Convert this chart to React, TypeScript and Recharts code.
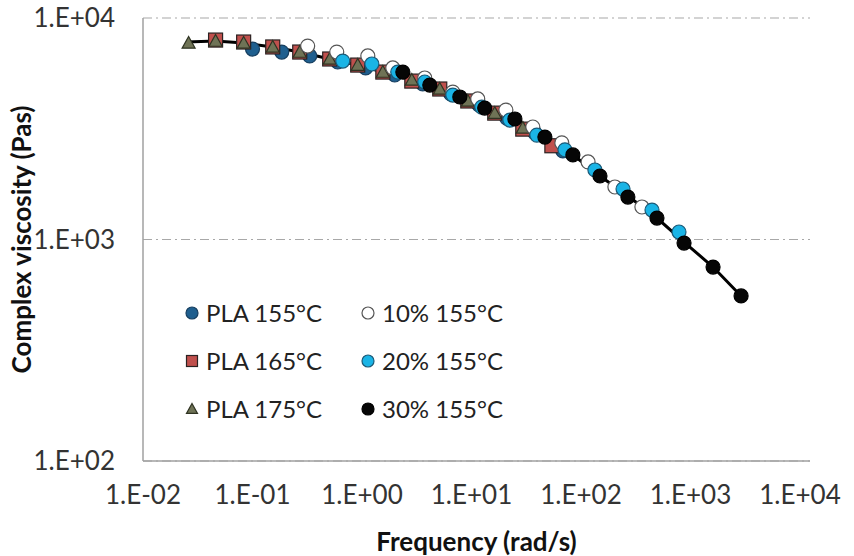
import { CartesianGrid, Legend, Scatter, ScatterChart, XAxis, YAxis } from 'recharts';

// frequency (rad/s), complex viscosity (Pa s)
const pla155: [number, number][] = [
  [0.1, 7240], [0.185, 7020], [0.333, 6740], [0.6, 6330], [1.08, 5950], [1.99, 5530],
  [3.59, 5040], [6.47, 4540], [11.7, 4050], [21.0, 3530], [37.9, 3030], [68.3, 2510]
];
const pla165: [number, number][] = [
  [0.046, 7950], [0.083, 7790], [0.153, 7400], [0.27, 7020], [0.507, 6530], [0.914, 6130],
  [1.55, 5700], [2.85, 5190], [5.13, 4780], [9.25, 4220], [16.3, 3720], [29.4, 3150], [54.2, 2650]
];
const pla175: [number, number][] = [
  [0.0261, 7710], [0.046, 7870], [0.083, 7710], [0.153, 7400], [0.27, 7020], [0.507, 6530],
  [0.914, 6130], [1.55, 5700], [2.85, 5250], [5.13, 4780], [9.25, 4220], [16.3, 3720], [29.4, 3190]
];
const comp10: [number, number][] = [
  [0.319, 7470], [0.588, 7020], [1.13, 6740], [1.91, 5950], [3.74, 5360], [6.75, 4630],
  [11.4, 4310], [20.6, 3840], [36.3, 3220], [66.8, 2730], [116, 2240], [204, 1726], [360, 1402]
];
const comp20: [number, number][] = [
  [0.667, 6390], [1.23, 6200], [2.12, 5700], [3.74, 5140], [6.75, 4490], [12.4, 3960],
  [22.4, 3460], [39.5, 2960], [71.3, 2540], [134, 2060], [242, 1690], [445, 1358], [785, 1081]
];
const comp30: [number, number][] = [
  [2.36, 5700], [4.16, 4980], [7.82, 4400], [13.2, 3920], [24.9, 3500], [46.8, 2900],
  [84.3, 2410], [149, 1935], [268, 1555], [494, 1250], [873, 964], [1607, 751], [2897, 556]
];
const masterCurve: [number, number][] = [
  [0.025, 7790], [0.046, 7870], [0.083, 7710], [0.153, 7400], [0.27, 7020], [0.507, 6530],
  [0.914, 6130], [1.55, 5700], [2.85, 5250], [5.13, 4780], [9.25, 4220], [16.3, 3720],
  [29.4, 3190], [54.2, 2670], [84.3, 2410], [149, 1935], [268, 1572], [494, 1250],
  [873, 974], [1607, 751], [2897, 556]
];

const xTicks = [0.01, 0.1, 1, 10, 100, 1000, 10000];
const yTicks = [100, 1000, 10000];

type Kind = 'circle' | 'square' | 'triangle';

const series: { name: string; data: [number, number][]; kind: Kind; fill: string; stroke: string }[] = [
  { name: 'PLA 155°C', data: pla155, kind: 'circle', fill: '#1f5f8f', stroke: '#173f60' },
  { name: 'PLA 165°C', data: pla165, kind: 'square', fill: '#c0504d', stroke: '#2b2222' },
  { name: 'PLA 175°C', data: pla175, kind: 'triangle', fill: '#6f7356', stroke: '#2f3322' },
  { name: '10% 155°C', data: comp10, kind: 'circle', fill: '#ffffff', stroke: '#555555' },
  { name: '20% 155°C', data: comp20, kind: 'circle', fill: '#1ab4e6', stroke: '#1b5a78' },
  { name: '30% 155°C', data: comp30, kind: 'circle', fill: '#060606', stroke: '#000000' }
];

const toPoints = (d: [number, number][]) => d.map(([f, eta]) => ({ f, eta }));

const sci = (v: number) => {
  const e = Math.round(Math.log10(v));
  return `1.E${e < 0 ? '-' : '+'}${String(Math.abs(e)).padStart(2, '0')}`;
};

const Marker = ({ kind, cx, cy, s, fill, stroke }: { kind: Kind; cx: number; cy: number; s: number; fill: string; stroke: string }) => {
  if (kind === 'square')
    return <rect x={cx - s} y={cy - s} width={2 * s} height={2 * s} fill={fill} stroke={stroke} strokeWidth={1.2} />;
  if (kind === 'triangle')
    return (
      <polygon
        points={`${cx},${cy - s} ${cx + s},${cy + s * 0.8} ${cx - s},${cy + s * 0.8}`}
        fill={fill}
        stroke={stroke}
        strokeWidth={1.2}
      />
    );
  return <circle cx={cx} cy={cy} r={s} fill={fill} stroke={stroke} strokeWidth={1.2} />;
};

const renderLegend = (props: any) => {
  const names = (props.payload || []).map((p: any) => p.value);
  const items = series.filter((s) => names.includes(s.name));
  return (
    <div style={{ position: 'relative', width: 400, height: 130, fontFamily: 'Lato', fontSize: 24, color: '#222' }}>
      {items.map((s, i) => {
        const col = Math.floor(i / 3);
        const row = i % 3;
        return (
          <div
            key={s.name}
            style={{ position: 'absolute', left: col * 176, top: row * 48, display: 'flex', alignItems: 'center', whiteSpace: 'nowrap' }}
          >
            <svg width={16} height={16} style={{ marginRight: 6 }}>
              <Marker kind={s.kind} cx={8} cy={8} s={s.kind === 'circle' ? 6 : 5.5} fill={s.fill} stroke={s.stroke} />
            </svg>
            <span>{s.name}</span>
          </div>
        );
      })}
    </div>
  );
};

export default function App() {
  return (
    <div style={{ position: 'absolute', left: 0, top: 0, width: 854, height: 556, background: '#fff', fontFamily: 'Lato' }}>
      <ScatterChart width={854} height={556} margin={{ top: 18, right: 44, bottom: 0, left: 0 }}>
        <CartesianGrid vertical={false} stroke="#a8a8a8" strokeDasharray="9 4 2 4" strokeWidth={1.2} />
        <XAxis
          type="number"
          dataKey="f"
          scale="log"
          domain={[0.01, 12340]}
          ticks={xTicks}
          allowDataOverflow
          tickFormatter={sci}
          height={95}
          tickSize={0}
          tickMargin={25}
          tick={{ fontSize: 26, fill: '#333', fontFamily: 'Lato' }}
          axisLine={{ stroke: '#a0a0a0', strokeWidth: 1.5 }}
          label={{ value: 'Frequency (rad/s)', position: 'insideBottom', offset: 5, style: { fontSize: 26, fontWeight: 700, fill: '#111', fontFamily: 'Lato' } }}
        />
        <YAxis
          type="number"
          dataKey="eta"
          scale="log"
          domain={[100, 10000]}
          ticks={yTicks}
          allowDataOverflow
          tickFormatter={sci}
          width={143}
          tickSize={0}
          tickMargin={28}
          tick={{ fontSize: 26, fill: '#333', fontFamily: 'Lato' }}
          axisLine={{ stroke: '#a0a0a0', strokeWidth: 1.5 }}
          label={{
            value: 'Complex viscosity (Pas)',
            angle: -90,
            position: 'insideLeft',
            offset: 22,
            style: { textAnchor: 'middle', fontSize: 26, fontWeight: 700, fill: '#111', fontFamily: 'Lato' }
          }}
        />
        <Legend
          layout="vertical"
          align="center"
          verticalAlign="middle"
          content={renderLegend}
          wrapperStyle={{ left: 184, top: 298, width: 400 }}
        />
        <Scatter
          name="master"
          legendType="none"
          data={toPoints(masterCurve)}
          line={{ stroke: '#000', strokeWidth: 3 }}
          shape={() => <g />}
          isAnimationActive={false}
        />
        {series.map((s) => (
          <Scatter
            key={s.name}
            name={s.name}
            data={toPoints(s.data)}
            fill={s.fill}
            isAnimationActive={false}
            shape={(p: any) => (
              <Marker kind={s.kind} cx={p.cx} cy={p.cy} s={s.kind === 'circle' ? 7 : s.kind === 'square' ? 7 : 6.5} fill={s.fill} stroke={s.stroke} />
            )}
          />
        ))}
      </ScatterChart>
    </div>
  );
}
